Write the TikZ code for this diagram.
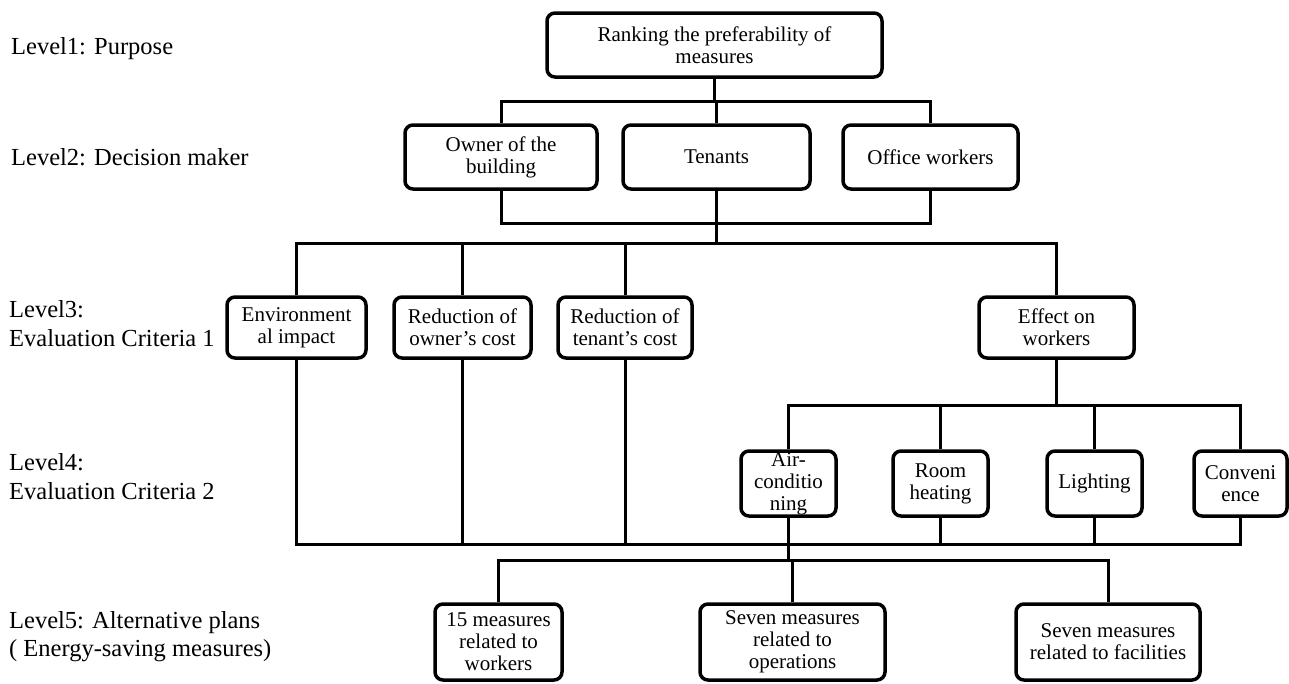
\documentclass[tikz,border=0pt]{standalone}
\usepackage{fontspec}
\setmainfont{Liberation Serif}
\begin{document}
\begin{tikzpicture}[x=1pt,y=-1pt,
  box/.style={draw, line width=3.5pt, rounded corners=8pt, inner sep=0pt, align=center, font=\fontsize{21}{22}\selectfont},
  conn/.style={line width=3pt},
  lvl/.style={anchor=base west, inner sep=0pt, font=\fontsize{24.5}{29}\selectfont}]
\useasboundingbox (0,0) rectangle (1289,683);

% level labels
\node[lvl] (l1) at (11,54) {Level1: Purpose};
\node[lvl] (l2) at (11,165) {Level2: Decision maker};
\node[lvl] (l3a) at (9,317) {Level3:};
\node[lvl] (l3b) at (9,346) {Evaluation Criteria 1};
\node[lvl] (l4a) at (9,470) {Level4:};
\node[lvl] (l4b) at (9,499) {Evaluation Criteria 2};
\node[lvl] (l5a) at (9,628) {Level5: Alternative plans};
\node[lvl] (l5b) at (9,656) {( Energy-saving measures)};

% level 1
\node[box, minimum width=335pt, minimum height=64pt] (top) at (714.5,45) {Ranking the preferability of\\measures};
% level 2
\node[box, minimum width=192pt, minimum height=64pt] (owner) at (501,157) {Owner of the\\building};
\node[box, minimum width=187pt, minimum height=64pt] (tenants) at (716.5,157) {Tenants};
\node[box, minimum width=175pt, minimum height=64pt] (office) at (930.5,157) {Office workers};
% level 3
\node[box, minimum width=139pt, minimum height=61pt] (env) at (296.5,327.5) {Environment\\al impact};
\node[box, minimum width=137pt, minimum height=61pt] (ocost) at (462.5,327.5) {Reduction of\\owner’s cost};
\node[box, minimum width=134pt, minimum height=61pt] (tcost) at (625,327.5) {Reduction of\\tenant’s cost};
\node[box, minimum width=155pt, minimum height=61pt] (effect) at (1056.5,327.5) {Effect on\\workers};
% level 4
\node[box, minimum width=95pt, minimum height=65pt] (air) at (788.5,483.5) {Air-\\conditio\\ning};
\node[box, minimum width=95pt, minimum height=65pt] (room) at (940.5,483.5) {Room\\heating};
\node[box, minimum width=95pt, minimum height=65pt] (light) at (1094.5,483.5) {Lighting};
\node[box, minimum width=93pt, minimum height=65pt] (conv) at (1240.5,483.5) {Conveni\\ence};
% level 5
\node[box, minimum width=127pt, minimum height=76pt] (w15) at (498.5,642) {15 measures\\related to\\workers};
\node[box, minimum width=185pt, minimum height=76pt] (ops) at (792.5,642) {Seven measures\\related to\\operations};
\node[box, minimum width=184pt, minimum height=76pt] (fac) at (1108,642) {Seven measures\\related to facilities};

% junction coordinates
\coordinate (bar1) at (714.5,101);
\coordinate (j2) at (716.5,223);
\coordinate (bar3) at (716.5,243);
\coordinate (bar4) at (1056.5,405);
\coordinate (bar5) at (788.5,544);
\coordinate (bar6) at (788.5,560);

% level 1 -> 2
\draw[conn] (top.south) -- (bar1);
\draw[conn] (owner.north) -- (owner.north |- bar1) -- (office.north |- bar1) -- (office.north);
\draw[conn] (tenants.north) -- (tenants.north |- bar1);
% level 2 -> 3
\draw[conn] (owner.south) -- (owner.south |- j2) -- (office.south |- j2) -- (office.south);
\draw[conn] (tenants.south) -- (tenants.south |- bar3);
\draw[conn] (env.north) -- (env.north |- bar3) -- (effect.north |- bar3) -- (effect.north);
\draw[conn] (ocost.north) -- (ocost.north |- bar3);
\draw[conn] (tcost.north) -- (tcost.north |- bar3);
% level 3 -> 4
\draw[conn] (effect.south) -- (bar4);
\draw[conn] (air.north) -- (air.north |- bar4) -- (conv.north |- bar4) -- (conv.north);
\draw[conn] (room.north) -- (room.north |- bar4);
\draw[conn] (light.north) -- (light.north |- bar4);
% level 3/4 -> collector
\draw[conn] (env.south) -- (env.south |- bar5) -- (conv.south |- bar5) -- (conv.south);
\draw[conn] (ocost.south) -- (ocost.south |- bar5);
\draw[conn] (tcost.south) -- (tcost.south |- bar5);
\draw[conn] (room.south) -- (room.south |- bar5);
\draw[conn] (light.south) -- (light.south |- bar5);
\draw[conn] (air.south) -- (bar6);
% -> level 5
\draw[conn] (w15.north) -- (w15.north |- bar6) -- (fac.north |- bar6) -- (fac.north);
\draw[conn] (ops.north) -- (ops.north |- bar6);
\end{tikzpicture}
\end{document}
